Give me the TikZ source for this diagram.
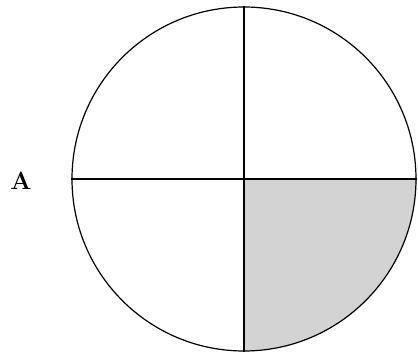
\documentclass[tikz,border=0pt]{standalone}
\usepackage{xcolor}
\definecolor{quadFill}{HTML}{D3D3D3}
\tikzset{
    disc/.style={circle, draw, line width=1.2pt, minimum size=344pt, inner sep=0pt},
    cross/.style={-, line width=1.2pt},
    lbl/.style={font=\bfseries\fontsize{25}{30}\selectfont, inner sep=0pt},
}
\begin{document}
\begin{tikzpicture}[x=1pt, y=-1pt]
    \useasboundingbox (0,0) rectangle (418,355);
    % shaded quadrant
    \fill[quadFill] (244,179) -- (416,179) arc[start angle=0, end angle=-90, radius=172pt] -- cycle;
    \node[disc] (d) at (244,179) {};
    \draw[cross] (d.north) -- (d.south);
    \draw[cross] (d.west) -- (d.east);
    \node[lbl] (A) at (21,181) {A};
\end{tikzpicture}
\end{document}
